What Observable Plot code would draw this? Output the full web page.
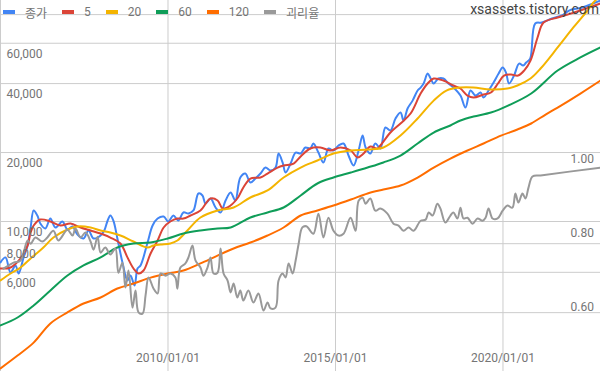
<!DOCTYPE html>
<html>
<head>
<meta charset="utf-8">
<script src="https://cdn.jsdelivr.net/npm/d3@7"></script>
<script src="https://cdn.jsdelivr.net/npm/@observablehq/plot@0.6"></script>
<style>
  html, body { margin: 0; padding: 0; background: #fff; }
  #wrap { position: relative; width: 600px; height: 371px; overflow: hidden; font-family: Roboto, "Noto Sans CJK KR", sans-serif; }
  #legend { position: absolute; left: 3px; top: 5px; height: 14px; display: flex; align-items: center; font-size: 12px; color: #757575; white-space: nowrap; }
  #legend .item { display: flex; align-items: center; margin-right: 15px; }
  #legend .sw { display: inline-block; width: 12px; height: 4px; margin-right: 10px; }
  #wm { position: absolute; right: 1px; top: 0px; font-size: 14px; color: #444; line-height: 18px; }
</style>
</head>
<body>
<div id="wrap">
  <div id="chart"></div>
  <div id="legend"></div>
  <div id="wm">xsassets.tistory.com</div>
</div>
<script>
// ---- data (dates as decimal years) ----
const seriesNames = ["종가", "5", "20", "60", "120", "괴리율"];
const seriesColors = ["#4285f4", "#db4437", "#f4b400", "#0f9d58", "#ff6d00", "#999999"];

const close = [
  [2005.00,6630],[2005.15,6970],[2005.30,5990],[2005.45,6430],[2005.54,5930],[2005.69,6970],
  [2005.81,7860],[2005.90,9415],[2005.99,11170],[2006.10,10620],[2006.19,9800],[2006.34,9320],
  [2006.49,10300],[2006.64,9415],[2006.85,10000],[2007.00,9230],[2007.15,9510],[2007.30,8775],
  [2007.48,8430],[2007.63,9135],[2007.78,8430],[2007.99,8685],[2008.10,9135],[2008.19,10000],
  [2008.28,10620],[2008.37,10100],[2008.49,8430],[2008.64,6630],[2008.79,5530],[2008.88,5810],
  [2009.00,5260],[2009.09,6235],[2009.18,6430],[2009.39,8095],[2009.54,9605],[2009.69,10300],
  [2009.87,10510],[2010.01,10000],[2010.16,10620],[2010.31,10100],[2010.46,10950],[2010.61,10840],
  [2010.76,11170],[2010.91,13255],[2011.03,12990],[2011.12,11985],[2011.27,12600],[2011.42,11510],
  [2011.57,10950],[2011.72,12350],[2011.87,13390],[2012.01,12350],[2012.16,15560],[2012.31,16195],
  [2012.46,14800],[2012.61,15405],[2012.76,16195],[2012.91,17200],[2013.06,16690],[2013.21,17200],
  [2013.30,19800],[2013.42,18100],[2013.51,16360],[2013.66,17910],[2013.81,20000],[2013.96,19800],
  [2014.10,21035],[2014.25,20830],[2014.34,21900],[2014.49,20000],[2014.64,18100],[2014.79,20830],
  [2014.94,20410],[2015.09,21465],[2015.24,21900],[2015.39,19410],[2015.54,17555],[2015.69,20410],
  [2015.81,23740],[2015.90,21035],[2016.04,19800],[2016.19,21900],[2016.34,20830],[2016.49,25725],
  [2016.64,24960],[2016.79,28160],[2016.94,29890],[2017.03,27600],[2017.15,31120],[2017.30,33700],
  [2017.45,37300],[2017.54,38440],[2017.63,40030],[2017.75,44250],[2017.84,42090],[2017.93,40030],
  [2018.07,42090],[2018.22,42090],[2018.37,40030],[2018.52,38440],[2018.73,35470],[2018.88,31430],
  [2019.03,37300],[2019.18,35470],[2019.33,36560],[2019.42,34770],[2019.57,37300],[2019.72,40430],
  [2019.87,44250],[2019.99,47000],[2020.09,44690],[2020.18,40030],[2020.33,43370],[2020.48,48900],
  [2020.60,47930],[2020.69,49400],[2020.81,51420],[2020.96,73160],[2021.16,73900],[2021.46,76930],
  [2021.76,79290],[2021.97,83350],[2022.36,85900],[2022.91,92200]
];

const ma5 = [
  [2005.00,6235],[2005.30,6300],[2005.60,6900],[2005.81,7860],[2005.90,8955],[2005.99,9605],
  [2006.19,10200],[2006.49,10000],[2006.79,9605],[2007.09,9800],[2007.39,9415],[2007.69,9135],
  [2007.99,8860],[2008.28,8510],[2008.58,8015],[2008.79,6970],[2008.97,6235],[2009.12,5930],
  [2009.27,6110],[2009.48,7250],[2009.69,8260],[2009.87,9415],[2010.07,10000],[2010.28,10300],
  [2010.46,10300],[2010.67,10620],[2010.97,11170],[2011.27,12600],[2011.48,12350],[2011.63,11400],
  [2011.78,11510],[2012.07,12600],[2012.25,14080],[2012.46,15405],[2012.76,15560],[2012.97,16195],
  [2013.27,17200],[2013.45,17555],[2013.75,17910],[2013.96,19220],[2014.25,20830],[2014.55,21035],
  [2014.85,20410],[2015.15,21035],[2015.46,20410],[2015.66,19025],[2015.84,19800],[2016.04,21250],
  [2016.25,20830],[2016.34,21465],[2016.64,24460],[2016.94,26780],[2017.24,29600],[2017.54,36190],
  [2017.75,40030],[2017.93,42090],[2018.22,41250],[2018.52,39230],[2018.73,38060],[2018.94,35470],
  [2019.12,34770],[2019.42,35830],[2019.64,36560],[2019.85,40030],[2020.03,43370],[2020.24,43800],
  [2020.45,43370],[2020.63,45600],[2020.82,50400],[2021.03,63590],[2021.21,73900],[2021.63,77700],
  [2021.93,80070],[2022.31,83350],[2022.91,89460]
];

const ma20 = [
  [2005.00,5530],[2005.30,5930],[2005.60,6300],[2005.90,6900],[2006.28,7700],[2006.58,8510],
  [2007.00,9230],[2007.30,9510],[2007.69,9415],[2007.99,9135],[2008.28,8955],[2008.58,8685],
  [2008.97,8180],[2009.39,7700],[2009.57,7860],[2009.78,7935],[2010.07,8015],[2010.28,8260],
  [2010.58,9135],[2010.97,10410],[2011.48,11170],[2011.96,11510],[2012.46,12730],[2012.97,13660],
  [2013.45,15560],[2013.96,17200],[2014.46,18460],[2014.94,19800],[2015.46,20410],[2015.96,20620],
  [2016.43,21035],[2016.94,23730],[2017.45,28160],[2017.93,33700],[2018.31,37300],[2018.73,38440],
  [2019.12,38440],[2019.63,37680],[2020.13,38060],[2020.43,39230],[2020.82,42090],[2021.12,46530],
  [2021.63,57500],[2022.10,70290],[2022.52,83350],[2022.70,90400],[2022.91,96950]
];

const ma60 = [
  [2005.00,3520],[2005.51,3810],[2005.99,4300],[2006.49,5000],[2007.00,5810],[2007.48,6430],
  [2007.99,6970],[2008.49,7700],[2008.97,8015],[2009.48,8095],[2009.99,8430],[2010.46,8860],
  [2010.97,9135],[2011.48,9320],[2011.87,9415],[2012.46,10410],[2012.97,10950],[2013.45,11510],
  [2013.96,12990],[2014.46,14650],[2014.94,15560],[2015.46,16360],[2015.96,17200],[2016.43,18100],
  [2016.94,19410],[2017.45,21900],[2017.93,24460],[2018.43,26250],[2018.73,27600],[2019.12,28720],
  [2019.64,29890],[2020.15,32050],[2020.84,36200],[2021.63,45600],[2022.31,52010],[2022.91,57510]
];

const ma120 = [
  [2005.00,2285],[2005.51,2600],[2005.99,2960],[2006.49,3590],[2007.00,4010],[2007.48,4385],
  [2007.99,4660],[2008.49,5100],[2008.97,5360],[2009.48,5690],[2009.99,5930],[2010.46,6110],
  [2010.97,6560],[2011.48,7100],[2011.96,7620],[2012.46,8095],[2012.97,8685],[2013.45,9415],
  [2013.96,10620],[2014.46,11170],[2014.94,11740],[2015.46,12470],[2015.96,13255],[2016.43,13790],
  [2016.94,14350],[2017.45,15560],[2017.93,17200],[2018.43,18830],[2018.94,20410],[2019.42,21900],
  [2019.94,23700],[2020.43,25220],[2020.84,26780],[2021.27,29300],[2021.63,31430],[2022.31,36190],
  [2022.91,41250]
];

const ratio = [
  [2005.09,0.676],[2005.39,0.692],[2005.60,0.698],[2005.81,0.752],[2005.90,0.743],[2006.04,0.760],
  [2006.25,0.749],[2006.40,0.760],[2006.58,0.778],[2006.73,0.752],[2007.00,0.781],[2007.15,0.765],
  [2007.24,0.784],[2007.39,0.760],[2007.54,0.773],[2007.69,0.749],[2007.78,0.727],[2007.90,0.762],
  [2007.99,0.719],[2008.13,0.733],[2008.28,0.714],[2008.43,0.730],[2008.52,0.665],[2008.64,0.692],
  [2008.73,0.625],[2008.82,0.671],[2008.94,0.571],[2009.03,0.617],[2009.12,0.558],[2009.24,0.555],
  [2009.33,0.604],[2009.42,0.652],[2009.57,0.622],[2009.69,0.609],[2009.78,0.663],[2009.93,0.657],
  [2010.07,0.663],[2010.22,0.652],[2010.28,0.622],[2010.37,0.679],[2010.52,0.690],[2010.61,0.706],
  [2010.73,0.738],[2010.82,0.698],[2010.97,0.679],[2011.06,0.657],[2011.18,0.679],[2011.27,0.706],
  [2011.36,0.663],[2011.48,0.665],[2011.57,0.730],[2011.66,0.663],[2011.78,0.644],[2011.87,0.612],
  [2011.96,0.636],[2012.07,0.598],[2012.16,0.617],[2012.25,0.590],[2012.40,0.617],[2012.55,0.585],
  [2012.70,0.609],[2012.85,0.563],[2012.97,0.585],[2013.06,0.569],[2013.21,0.571],[2013.30,0.644],
  [2013.42,0.663],[2013.51,0.652],[2013.60,0.690],[2013.72,0.663],[2013.81,0.698],[2013.90,0.743],
  [2014.01,0.787],[2014.13,0.790],[2014.34,0.770],[2014.49,0.824],[2014.64,0.760],[2014.79,0.813],
  [2014.94,0.778],[2015.09,0.765],[2015.24,0.770],[2015.45,0.813],[2015.60,0.778],[2015.69,0.859],
  [2015.81,0.867],[2015.90,0.851],[2016.04,0.865],[2016.19,0.832],[2016.34,0.838],[2016.55,0.824],
  [2016.73,0.797],[2016.88,0.792],[2017.03,0.778],[2017.18,0.787],[2017.33,0.778],[2017.54,0.805],
  [2017.69,0.808],[2017.78,0.827],[2017.90,0.819],[2018.04,0.851],[2018.13,0.838],[2018.28,0.800],
  [2018.43,0.819],[2018.52,0.827],[2018.64,0.811],[2018.73,0.840],[2018.82,0.811],[2018.94,0.813],
  [2019.09,0.797],[2019.24,0.811],[2019.39,0.805],[2019.48,0.813],[2019.57,0.838],[2019.69,0.811],
  [2019.84,0.811],[2019.99,0.832],[2020.13,0.846],[2020.28,0.840],[2020.37,0.878],[2020.46,0.854],
  [2020.58,0.878],[2020.67,0.865],[2020.76,0.894],[2020.88,0.924],[2021.12,0.927],[2022.91,0.948]
];

// axes / ticks
const xDomain = [2005.0, 2022.91];
const yDomain = [2214, 92200];          // left (log) axis range
const rDomain = [0.399, 1.398];         // right (linear) axis range
const priceGrid = [4000, 6000, 8000, 10000, 20000, 40000, 60000, 80000];
const priceLabels = [6000, 8000, 10000, 20000, 40000, 60000];
const ratioTicks = [0.6, 0.8, 1.0];
const dateGrid = [2005, 2010, 2015, 2020];
const dateLabels = [2010, 2015, 2020];

// ---- helpers ----
const toDate = t => {
  const y = Math.floor(t);
  const a = Date.UTC(y, 0, 1), b = Date.UTC(y + 1, 0, 1);
  return new Date(a + (t - y) * (b - a));
};
const lMin = Math.log(yDomain[0]), lMax = Math.log(yDomain[1]);
// map the right-axis ratio onto the left log scale (dual axis)
const r2p = r => Math.exp(lMin + (r - rDomain[0]) / (rDomain[1] - rDomain[0]) * (lMax - lMin));
const fmtDate = y => `${y}/01/01`;

const lineOf = (data, color, map = v => v) =>
  Plot.line(data, {x: d => toDate(d[0]), y: d => map(d[1]), stroke: color, strokeWidth: 2,
                   curve: "catmull-rom", clip: true});

const chart = Plot.plot({
  width: 600, height: 371, margin: 0,
  style: {fontFamily: "Roboto, 'Noto Sans CJK KR', sans-serif", fontSize: "12px", background: "transparent", overflow: "visible"},
  x: {type: "utc", domain: xDomain.map(toDate), axis: null},
  y: {type: "log", domain: yDomain, axis: null},
  marks: [
    Plot.ruleY(priceGrid, {y: d => d, stroke: "#cccccc", strokeWidth: 1, strokeOpacity: 1}),
    Plot.ruleX(dateGrid, {x: d => toDate(d), stroke: "#cccccc", strokeWidth: 1, strokeOpacity: 1}),
    lineOf(close, seriesColors[0]),
    lineOf(ma5, seriesColors[1]),
    lineOf(ma20, seriesColors[2]),
    lineOf(ma60, seriesColors[3]),
    lineOf(ma120, seriesColors[4]),
    lineOf(ratio, seriesColors[5], r2p),
    Plot.text(priceLabels, {y: d => d, text: d => d3.format(",")(d), frameAnchor: "left",
      textAnchor: "start", lineAnchor: "top", dx: 6, dy: 6, fill: "#757575"}),
    Plot.text(ratioTicks, {y: d => r2p(d), text: d => d.toFixed(2), frameAnchor: "right",
      textAnchor: "end", lineAnchor: "top", dx: -6.5, dy: 6, fill: "#757575"}),
    Plot.text(dateLabels, {x: d => toDate(d), text: d => fmtDate(d), frameAnchor: "bottom",
      lineAnchor: "bottom", dy: -9.5, fill: "#757575"})
  ]
});
document.getElementById("chart").append(chart);

// legend
const legend = document.getElementById("legend");
seriesNames.forEach((name, i) => {
  const item = document.createElement("span");
  item.className = "item";
  const sw = document.createElement("span");
  sw.className = "sw";
  sw.style.background = seriesColors[i];
  const tx = document.createElement("span");
  tx.textContent = name;
  item.append(sw, tx);
  legend.append(item);
});
</script>
</body>
</html>
